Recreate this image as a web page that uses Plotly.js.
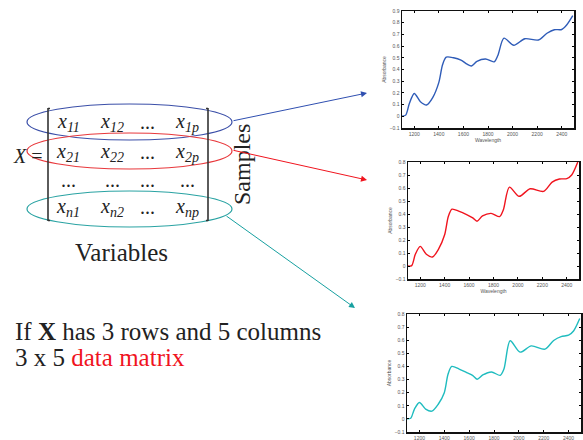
<!DOCTYPE html>
<html>
<head>
<meta charset="utf-8">
<script src="https://cdn.plot.ly/plotly-3.0.1.min.js"></script>
<style>html,body{margin:0;padding:0;background:#fff;}#chart{width:583px;height:440px;}</style>
</head>
<body>
<div id="chart"></div>
<script>
// ---- Data ----
const wavelength = [1100,1130,1160,1200,1250,1300,1350,1400,1430,1460,1520,1580,1630,1665,1710,1780,1850,1880,1930,2010,2100,2210,2280,2340,2400,2440,2490];
const sample1 = [0.0,0.01,0.11,0.195,0.125,0.097,0.16,0.29,0.44,0.505,0.5,0.48,0.445,0.43,0.47,0.49,0.466,0.52,0.668,0.607,0.663,0.652,0.71,0.74,0.742,0.78,0.86];
const sample2 = [0.0,0.003,0.09,0.151,0.09,0.069,0.13,0.24,0.38,0.437,0.42,0.395,0.37,0.344,0.385,0.405,0.38,0.43,0.607,0.536,0.594,0.574,0.645,0.669,0.672,0.70,0.80];
const sample3 = [0.0,0.005,0.075,0.125,0.075,0.059,0.11,0.20,0.34,0.40,0.38,0.353,0.33,0.302,0.335,0.358,0.332,0.38,0.596,0.509,0.557,0.532,0.598,0.628,0.638,0.67,0.765];
const xTicks = [1200,1400,1600,1800,2000,2200,2400];
const xTitle = "Wavelength";
const yTitle = "Absorbance";
const matrixRows = [
  ["x<sub>11</sub>","x<sub>12</sub>","...","x<sub>1p</sub>"],
  ["x<sub>21</sub>","x<sub>22</sub>","...","x<sub>2p</sub>"],
  ["...","...","...","..."],
  ["x<sub>n1</sub>","x<sub>n2</sub>","...","x<sub>np</sub>"]
];

// ---- helpers: pixel -> paper ----
const W = 583, H = 440;
const px = v => v / W;
const py = v => 1 - v / H;

const colors = {blue:'#2f5cb8', red:'#f0141e', cyan:'#1fbcbf'};

const traces = [
  {x: wavelength, y: sample1, xaxis:'x', yaxis:'y', mode:'lines', line:{color:colors.blue, width:1.4, shape:'spline', smoothing:0.8}, hoverinfo:'skip'},
  {x: wavelength, y: sample2, xaxis:'x2', yaxis:'y2', mode:'lines', line:{color:colors.red, width:1.4, shape:'spline', smoothing:0.8}, hoverinfo:'skip'},
  {x: wavelength, y: sample3, xaxis:'x3', yaxis:'y3', mode:'lines', line:{color:colors.cyan, width:1.4, shape:'spline', smoothing:0.8}, hoverinfo:'skip'}
];

const tickFont = {family:'Liberation Sans', size:5, color:'#555'};
function xa(dom, anchor, withTitle){
  const a = {domain: dom, anchor: anchor, range:[1100,2500], tickvals: xTicks, ticks:'inside', ticklen:2, tickwidth:1, tickcolor:'#000',
    showline:true, mirror:'ticks', linecolor:'#111', linewidth:1.5, showgrid:false, zeroline:false,
    tickfont: tickFont};
  if (withTitle) a.title = {text:xTitle, font:tickFont, standoff:2};
  return a;
}
function ya(dom, anchor, top){
  return {domain: dom, anchor: anchor, range:[-0.1, top], dtick:0.1, tick0:0, ticks:'inside', ticklen:2, tickwidth:1, tickcolor:'#000',
    showline:true, mirror:'ticks', linecolor:'#111', linewidth:1.5, showgrid:false, zeroline:false,
    tickfont: tickFont,
    title:{text:yTitle, font:tickFont, standoff:3}};
}

const serif = 'Liberation Serif';
const annotations = [];
const colX = [68, 112, 147, 187];
const rowY = [122, 152, 180, 207];
matrixRows.forEach((row, r) => row.forEach((t, c) => {
  annotations.push({xref:'paper', yref:'paper', x:px(colX[c]), y:py(rowY[r]), xanchor:'center', yanchor:'middle', showarrow:false,
    text: t === '...' ? '...' : '<i>' + t + '</i>', font:{family:serif, size:20, color:'#222'}});
}));
annotations.push({xref:'paper', yref:'paper', x:px(11), y:py(156), xanchor:'left', yanchor:'middle', showarrow:false,
  text:'<i>X</i> =', font:{family:serif, size:20, color:'#222'}});
annotations.push({xref:'paper', yref:'paper', x:px(242), y:py(165), xanchor:'center', yanchor:'middle', showarrow:false, textangle:-90,
  text:'Samples', font:{family:serif, size:24, color:'#222'}});
annotations.push({xref:'paper', yref:'paper', x:px(121), y:py(253), xanchor:'center', yanchor:'middle', showarrow:false,
  text:'Variables', font:{family:serif, size:25, color:'#222'}});
annotations.push({xref:'paper', yref:'paper', x:px(13), y:py(331), xanchor:'left', yanchor:'middle', showarrow:false,
  text:'If <b>X</b> has 3 rows and 5 columns', font:{family:serif, size:25, color:'#222'}});
annotations.push({xref:'paper', yref:'paper', x:px(13), y:py(357), xanchor:'left', yanchor:'middle', showarrow:false,
  text:'3 x 5 <span style="color:#f0141e">data matrix</span>', font:{family:serif, size:25, color:'#222'}});
// x-axis title of the bottom plot: sits at the picture's lower edge, mostly cut off as in the reference
annotations.push({xref:'x3 domain', yref:'paper', x:0.5, y:py(437), xanchor:'center', yanchor:'top', showarrow:false,
  text:xTitle, font:tickFont});

// arrows: tip and tail in px
const arrows = [
  {tip:[367,93], tail:[232,121], color:'#2f4fb0'},
  {tip:[367,180], tail:[232,150], color:'#f0141e'},
  {tip:[355,308], tail:[225,215], color:'#17a0a0'}
];
arrows.forEach(a => annotations.push({xref:'paper', yref:'paper', x:px(a.tip[0]), y:py(a.tip[1]),
  ax: a.tail[0]-a.tip[0], ay: a.tail[1]-a.tip[1], axref:'pixel', ayref:'pixel', showarrow:true, arrowhead:2, arrowsize:1.2, arrowwidth:1,
  arrowcolor:a.color, standoff:0, startstandoff:0, text:''}));

const shapes = [];
// ellipses
[[122,'#3b4fa8'],[151,'#e8383c'],[209,'#2aa3a3']].forEach(e => shapes.push({type:'circle', xref:'paper', yref:'paper',
  x0:px(27), x1:px(232), y0:py(e[0]+18), y1:py(e[0]-18), line:{color:e[1], width:1.2}}));
// matrix brackets
[[48,1],[208,-1]].forEach(b => {
  shapes.push({type:'line', xref:'paper', yref:'paper', x0:px(b[0]), x1:px(b[0]), y0:py(108), y1:py(221), line:{color:'#333', width:1.6}});
  shapes.push({type:'line', xref:'paper', yref:'paper', x0:px(b[0]), x1:px(b[0]+2*b[1]), y0:py(108.5), y1:py(108.5), line:{color:'#333', width:1.5}});
  shapes.push({type:'line', xref:'paper', yref:'paper', x0:px(b[0]), x1:px(b[0]+2*b[1]), y0:py(220.5), y1:py(220.5), line:{color:'#333', width:1.5}});
});

const layout = {
  width: W, height: H, margin:{l:0, r:0, t:0, b:0}, showlegend:false,
  paper_bgcolor:'#fff', plot_bgcolor:'#fff',
  xaxis: xa([px(402), px(574)], 'y', true),
  yaxis: ya([py(128), py(11)], 'x', 0.9),
  xaxis2: xa([px(408), px(579)], 'y2', true),
  yaxis2: ya([py(279), py(162)], 'x2', 0.8),
  xaxis3: xa([px(407), px(581)], 'y3', false),
  yaxis3: ya([py(432), py(314)], 'x3', 0.8),
  annotations: annotations,
  shapes: shapes
};

Plotly.newPlot('chart', traces, layout, {staticPlot:true, displayModeBar:false});
</script>
</body>
</html>
